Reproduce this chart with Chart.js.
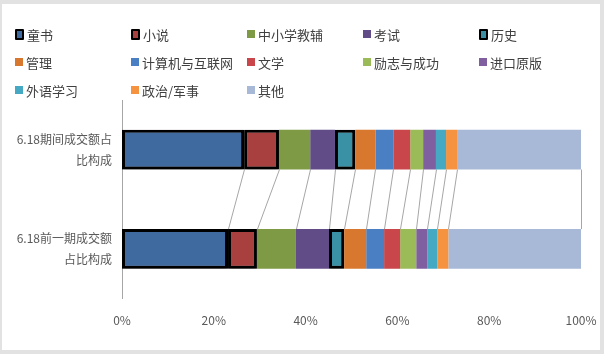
<!DOCTYPE html>
<html>
<head>
<meta charset="utf-8">
<script src="https://cdn.jsdelivr.net/npm/chart.js@4/dist/chart.umd.min.js"></script>
<style>
  html, body { margin:0; padding:0; }
  body { width:604px; height:354px; background:#e2e2e2; position:relative; overflow:hidden;
         font-family:"Noto Sans CJK SC","Noto Sans",sans-serif; }
  #frame { position:absolute; left:2px; top:4px; width:598px; height:346px; background:#fff; }
  #c { position:absolute; left:0; top:0; }
  #legend { position:absolute; left:15px; top:20px; display:grid;
            grid-template-columns:repeat(5,116px); grid-auto-rows:28px; }
  .li { display:flex; align-items:center; font-size:13px; color:#404040; white-space:nowrap; }
  .mk { width:8px; height:8px; margin-right:3px; box-sizing:border-box; }
  .mk.b { width:9px; height:11px; border:2px solid #000; border-radius:1px; }
</style>
</head>
<body>
<div id="frame"></div>
<canvas id="c" width="604" height="354"></canvas>
<div id="legend"></div>
<script>
const categories = [['6.18期间成交额占','比构成'], ['6.18前一期成交额','占比构成']];
const seriesNames = ['童书','小说','中小学教辅','考试','历史','管理','计算机与互联网','文学','励志与成功','进口原版','外语学习','政治/军事','其他'];
const shareDuring = [26.6, 7.6, 6.8, 5.4, 4.4, 4.4, 3.9, 3.7, 2.8, 2.8, 2.2, 2.4, 27.0];
const sharePrev   = [23.1, 6.3, 8.5, 7.2, 3.3, 4.8, 3.9, 3.5, 3.5, 2.4, 2.2, 2.4, 28.9];
const seriesColors = ['#3f6aa0','#a8403f','#7e9a44','#614c87','#3a91a6','#d8782f','#4a7fc4','#c9474a','#9bbb59','#7f5fa0','#45a9c3','#f59340','#a8b9d8'];
const outlined = ['童书','小说','历史'];
const xTicks = [0, 20, 40, 60, 80, 100];

const datasets = seriesNames.map((name, i) => {
  const o = outlined.includes(name);
  return {
    label: name,
    data: [shareDuring[i], sharePrev[i]],
    backgroundColor: seriesColors[i],
    borderColor: '#000',
    borderWidth: o ? 3 : 0,
    borderSkipped: false,
    outlined: o,
    barPercentage: 0.8,
    categoryPercentage: 0.5
  };
});

const seriesLines = {
  id: 'seriesLines',
  beforeDatasetsDraw(chart) {
    const ctx = chart.ctx;
    ctx.save();
    ctx.strokeStyle = '#a6a6a6';
    ctx.lineWidth = 1;
    chart.data.datasets.forEach((ds, i) => {
      const meta = chart.getDatasetMeta(i);
      const a = meta.data[0], b = meta.data[1];
      if (!a || !b) return;
      const x1 = Math.round(a.x) + 0.5, x2 = Math.round(b.x) + 0.5;
      ctx.beginPath();
      ctx.moveTo(x1, a.y + a.height / 2);
      ctx.lineTo(x2, b.y - b.height / 2);
      ctx.stroke();
    });
    ctx.restore();
  },
  beforeDatasetDraw(chart, args) {
    const ds = chart.data.datasets[args.index];
    if (ds.outlined) {
      const ctx = chart.ctx;
      ctx.save();
      ctx.shadowColor = 'rgba(0,0,0,0.45)';
      ctx.shadowBlur = 4;
      ctx.shadowOffsetY = 3;
    }
  },
  afterDatasetDraw(chart, args) {
    const ds = chart.data.datasets[args.index];
    if (ds.outlined) chart.ctx.restore();
  }
};

const chart = new Chart(document.getElementById('c'), {
  type: 'bar',
  data: { labels: categories, datasets },
  options: {
    indexAxis: 'y',
    responsive: false,
    animation: false,
    layout: { padding: { top: 100, right: 23, bottom: 11, left: 0 } },
    plugins: { legend: { display: false }, tooltip: { enabled: false } },
    scales: {
      x: {
        stacked: true, min: 0, max: 100,
        afterBuildTicks: s => { s.ticks = xTicks.map(v => ({ value: v })); },
        afterFit: s => { s.paddingLeft = 0; s.paddingRight = 0; },
        grid: { display: false, drawTicks: false },
        border: { display: false },
        ticks: { padding: 15, color: '#595959', font: { family: '"Noto Sans CJK SC","Noto Sans",sans-serif', size: 12 },
                 callback: v => v + '%' }
      },
      y: {
        stacked: true,
        afterFit: s => { s.width = 122; },
        grid: { display: false, drawTicks: false },
        border: { display: true, color: '#a6a6a6', width: 1 },
        ticks: { padding: 10, color: '#595959',
                 font: { family: '"Noto Sans CJK SC","Noto Sans",sans-serif', size: 12, lineHeight: 1.75 } }
      }
    }
  },
  plugins: [seriesLines]
});

// HTML legend built from the chart's datasets
const lg = document.getElementById('legend');
chart.data.datasets.forEach(ds => {
  const item = document.createElement('div');
  item.className = 'li';
  const mk = document.createElement('span');
  mk.className = 'mk' + (ds.outlined ? ' b' : '');
  mk.style.background = ds.backgroundColor;
  item.appendChild(mk);
  item.appendChild(document.createTextNode(ds.label));
  lg.appendChild(item);
});
</script>
</body>
</html>
